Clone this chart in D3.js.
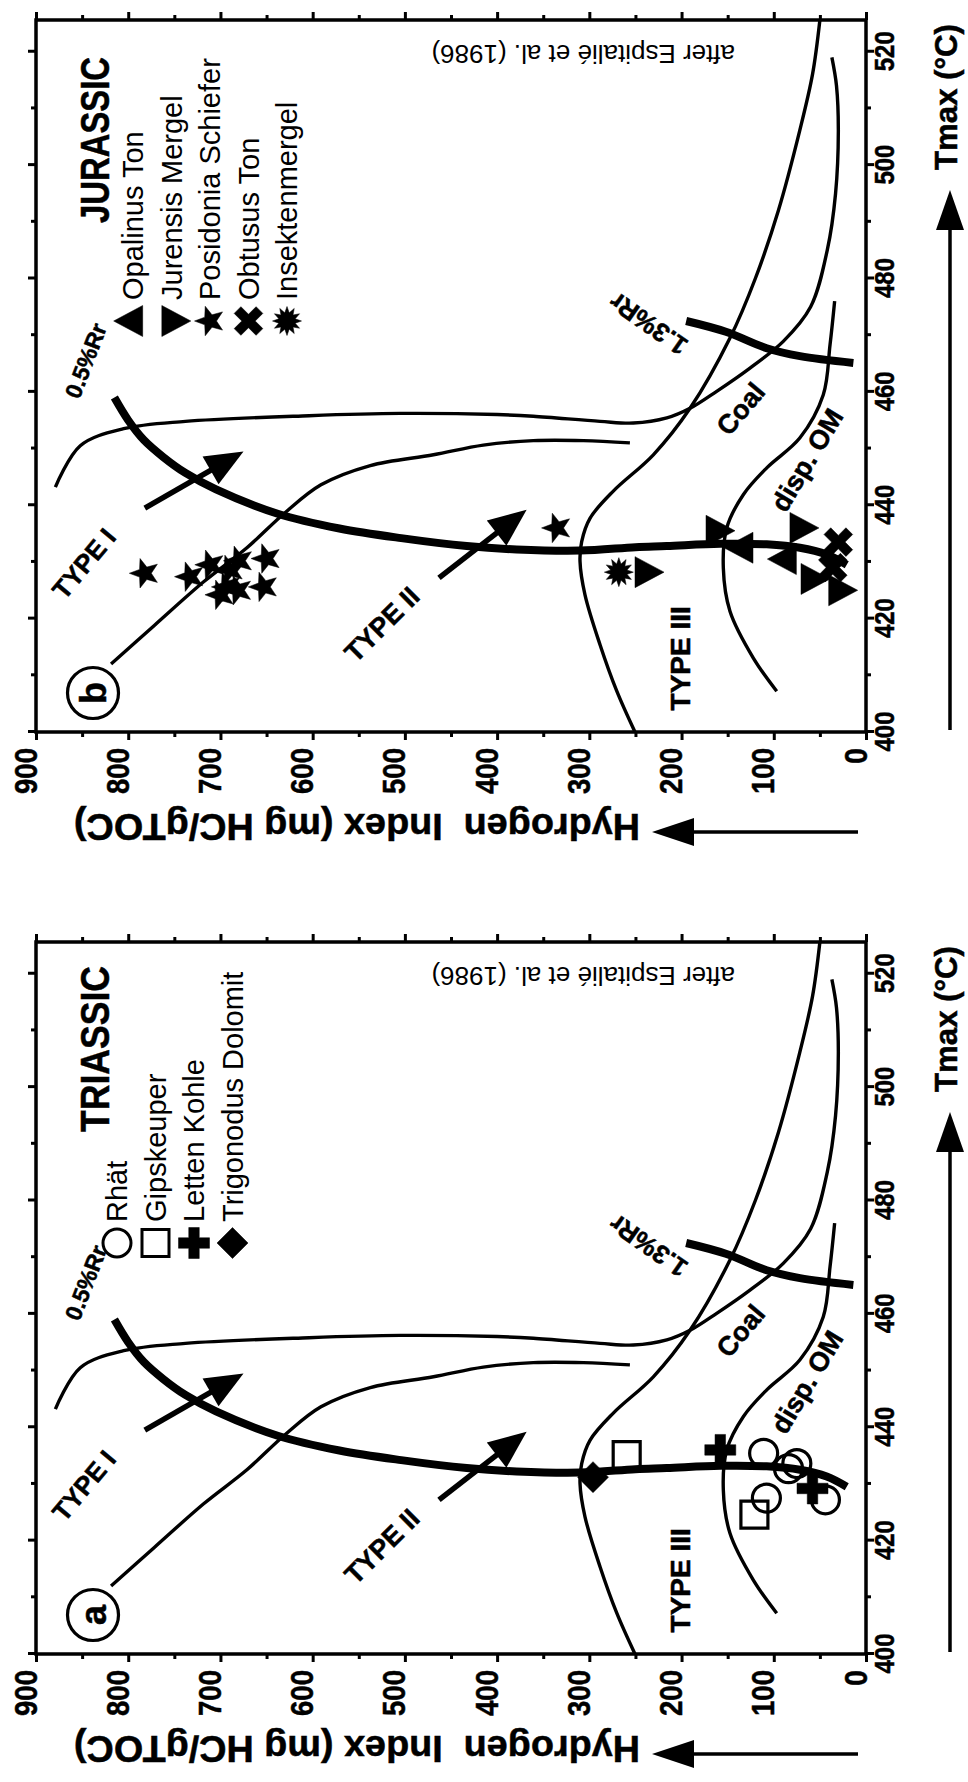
<!DOCTYPE html>
<html><head><meta charset="utf-8">
<script src="https://cdn.jsdelivr.net/npm/d3@7"></script>
<style>
html,body{margin:0;padding:0;background:#fff;}
svg{display:block;}
text{font-family:'Liberation Sans',Arial,Helvetica,sans-serif;fill:#000;}
.b{font-weight:bold;stroke:#000;stroke-width:0.5px;}
</style></head><body>
<svg id="chart" width="968" height="1782"></svg>
<script>
// ---------------- DATA (points are [Tmax °C, HI mg HC/gTOC]) ----------------
const tmaxTicks = [400, 420, 440, 460, 480, 500, 520];
const tmaxMinor = [410, 430, 450, 470, 490, 510];
const hiTicks = [0, 100, 200, 300, 400, 500, 600, 700, 800, 900];
const hiMinor = [50, 150, 250, 350, 450, 550, 650, 750, 850];
const tmaxDomain = [400, 525.6];
const hiDomain = [0, 900];

// reference curves (after Espitalié et al. 1986)
const typeIInner = [[412.0,818.6],[418.8,771.7],[426.5,718.2],[432.5,671.3],[438.5,631.2],[443.6,591],[447.0,537.5],[448.9,469],[450.6,415],[451.4,360.7],[451.4,306.5],[451.0,256]];
const typeIOuter = [[443.2,879],[450.5,852],[453.5,805],[454.8,738],[455.8,604],[456.2,505],[456.0,400],[455.7,360.7],[454.8,288.4],[454.5,252.3],[455.4,216],[457.1,190.8],[460.1,161.9],[464.2,125.8],[468.9,89.7],[475,60],[485,42],[495,33],[506,30],[514,32],[519,37]];
const typeIIIUpper = [[400,250.5],[407.2,270.2],[415.4,288.4],[424.2,304.7],[430.1,310.1],[433.6,308.3],[437.7,299.3],[442.5,274],[448.9,230.6],[457.1,190.8],[469.5,147.5],[480,120],[492,95],[506,72],[516,58],[525.6,50]];
const coalDispOM = [[407.2,96.8],[413,122],[421.3,147.5],[428.9,154.7],[436,151],[441.9,132.9],[446.6,107.6],[451.9,71.6],[459.5,46.3],[468.3,39],[476,34]];
const iso05 = [[459,815],[455,800],[451.5,783],[448.5,762],[445.7,738],[442.8,704.8],[438.5,637.9],[435.9,571],[434.2,504],[432.8,433],[432.2,378.8],[432.0,310],[432.6,250],[432.8,216],[433.2,158],[433.1,107.7],[432.5,71.6],[431.3,42.6],[429.5,20.9]];
const iso13 = [[472.5,195],[470.6,152],[467.7,107.7],[466.3,71.6],[465.1,13.7]];
const arrowTypeI = [[439.5,782],[449.5,675]];
const arrowTypeII = [[427.2,463],[439.2,368]];

// Jurassic samples
const jurassicNames = ['Opalinus Ton','Jurensis Mergel','Posidonia Schiefer','Obtusus Ton','Insektenmergel'];
const opalinusTon = [[432.5,133],[430.5,86]];
const jurensisMergel = [[435.5,163],[436,72],[428.2,240],[427,60],[425,30]];
const posidoniaSchiefer = [[428.0,782],[427.4,733],[429.5,711],[428.6,690],[430.2,680],[425.6,693],[424.2,700],[425.0,681],[430.6,650],[425.6,653],[436,335]];
const obtususTon = [[433.5,30],[429,36]];
const insektenmergel = [[428.2,268]];

// Triassic samples
const triassicNames = ['Rhät','Gipskeuper','Letten Kohle','Trigonodus Dolomit'];
const rhaet = [[435.4,111],[433.6,75],[432.7,84],[427.5,108],[427.2,44]];
const gipskeuper = [[435.1,259.5],[424.6,121]];
const lettenKohle = [[436,158],[429.2,58]];
const trigonodusDolomit = [[431.2,296]];

const annotations = [
  {text:'TYPE I',  t:429.7, hi:848, angle:-50, size:26},
  {text:'TYPE II', t:419,   hi:525, angle:-45, size:27},
  {text:'TYPE III',t:413,   hi:202, angle:-90, size:28},
  {text:'Coal',    t:457,   hi:136, angle:-50, size:27},
  {text:'disp. OM',t:448,   hi:64,  angle:-59, size:27},
  {text:'0.5%Rr',  t:465.5, hi:846, angle:-69, size:23},
  {text:'1.3%Rr',  t:472,   hi:236, angle:-145,size:26}
];

// ---------------- LAYOUT ----------------
const W = 712, H = 830, LEFT = 36;
const svg = d3.select('#chart');
const x = d3.scaleLinear().domain(tmaxDomain).range([0, W]);
const y = d3.scaleLinear().domain(hiDomain).range([H, 0]);

// marker shapes (local orientation; whole plot is rotated -90°)
function triPath(b, h){ return `M0,${-2*h/3}L${b/2},${h/3}L${-b/2},${h/3}Z`; }
function starPath(ro, ri, n){ let p=''; for(let i=0;i<2*n;i++){const r=i%2?ri:ro, a=Math.PI*i/n - Math.PI/2; p+=(i?'L':'M')+(r*Math.cos(a)).toFixed(2)+','+(r*Math.sin(a)).toFixed(2);} return p+'Z'; }
function crossPath(L, w){ const a=L/2, b=w/2; return `M${-b},${-a}H${b}V${-b}H${a}V${b}H${b}V${a}H${-b}V${b}H${-a}V${-b}H${-b}Z`; }
function diamondPath(r){ return `M0,${-r}L${r},0L0,${r}L${-r},0Z`; }
function squarePath(s){ return `M${-s/2},${-s/2}h${s}v${s}h${-s}Z`; }
function circlePath(r){ return `M${r},0A${r},${r} 0 1,1 ${-r},0A${r},${r} 0 1,1 ${r},0Z`; }
const SHAPES = {
  triUp:   {d: triPath(31,29), rot:0,   fill:true},
  triDown: {d: triPath(31,29), rot:180, fill:true},
  star:    {d: starPath(15.5,6.5,5), rot:0, fill:true},
  xcross:  {d: crossPath(31,9.5), rot:45, fill:true},
  burst:   {d: starPath(14.5,8.5,12), rot:0, fill:true},
  circle:  {d: circlePath(14), rot:0, fill:false},
  square:  {d: squarePath(27), rot:0, fill:false},
  plus:    {d: crossPath(31,10.5), rot:0, fill:true},
  diamond: {d: diamondPath(15.5), rot:0, fill:true}
};

const panels = [
  {top:20,  letter:'b', title:'JURASSIC', titleStart:203, legendX:133, names:jurassicNames,
   shapes:['triUp','triDown','star','xcross','burst'],
   series:[opalinusTon, jurensisMergel, posidoniaSchiefer, obtususTon, insektenmergel]},
  {top:942, letter:'a', title:'TRIASSIC', titleStart:190, legendX:117, names:triassicNames,
   shapes:['circle','square','plus','diamond'],
   series:[rhaet, gipskeuper, lettenKohle, trigonodusDolomit]}
];

const line = d3.line().x(d=>x(d[0])).y(d=>y(d[1])).curve(d3.curveCatmullRom.alpha(0.5));

panels.forEach(P => {
  const bottom = P.top + W;
  const g = svg.append('g').attr('transform', `translate(${LEFT},${bottom}) rotate(-90)`);

  // axes
  const styleAxis = a => { a.select('.domain').remove(); a.selectAll('line').attr('stroke','#000').attr('stroke-width',3); };
  const ax = g.append('g').attr('transform',`translate(0,${H})`)
    .call(d3.axisBottom(x).tickValues(tmaxTicks).tickSize(8).tickFormat(d3.format('d')));
  styleAxis(ax);
  ax.selectAll('text').attr('y',8).attr('dy','0.71em').attr('class','b')
    .style('font-size','28px').attr('textLength',40).attr('lengthAdjust','spacingAndGlyphs');
  styleAxis(g.append('g').attr('transform',`translate(0,${H})`).call(d3.axisBottom(x).tickValues(tmaxMinor).tickSize(5).tickFormat('')));
  styleAxis(g.append('g').call(d3.axisTop(x).tickValues(tmaxTicks).tickSize(8).tickFormat('')));
  styleAxis(g.append('g').call(d3.axisTop(x).tickValues(tmaxMinor).tickSize(5).tickFormat('')));
  const ay = g.append('g').call(d3.axisLeft(y).tickValues(hiTicks).tickSize(8).tickFormat(d3.format('d')));
  styleAxis(ay);
  ay.selectAll('text').attr('x',-16).attr('dy','0').attr('class','b')
    .style('font-size','31px').attr('textLength',d=>d===0?16:46).attr('lengthAdjust','spacingAndGlyphs');
  styleAxis(g.append('g').call(d3.axisLeft(y).tickValues(hiMinor).tickSize(5).tickFormat('')));
  styleAxis(g.append('g').attr('transform',`translate(${W},0)`).call(d3.axisRight(y).tickValues(hiTicks).tickSize(8).tickFormat('')));
  styleAxis(g.append('g').attr('transform',`translate(${W},0)`).call(d3.axisRight(y).tickValues(hiMinor).tickSize(5).tickFormat('')));

  // frame
  g.append('rect').attr('x',0).attr('y',0).attr('width',W).attr('height',H)
    .attr('fill','none').attr('stroke','#000').attr('stroke-width',3.5);

  // reference curves
  [typeIInner, typeIOuter, typeIIIUpper, coalDispOM].forEach(c =>
    g.append('path').attr('d', line(c)).attr('fill','none').attr('stroke','#000').attr('stroke-width',3.4));
  [iso05, iso13].forEach(c =>
    g.append('path').attr('d', line(c)).attr('fill','none').attr('stroke','#000').attr('stroke-width',8));

  // evolution arrows
  [arrowTypeI, arrowTypeII].forEach(a => {
    const p0=[x(a[0][0]),y(a[0][1])], p1=[x(a[1][0]),y(a[1][1])];
    const dx=p1[0]-p0[0], dy=p1[1]-p0[1], len=Math.hypot(dx,dy), ux=dx/len, uy=dy/len;
    const HL=38, HW=16;
    const b=[p1[0]-ux*HL, p1[1]-uy*HL];
    g.append('line').attr('x1',p0[0]).attr('y1',p0[1]).attr('x2',b[0]+ux*4).attr('y2',b[1]+uy*4)
      .attr('stroke','#000').attr('stroke-width',5.5);
    g.append('path').attr('d',`M${p1[0]},${p1[1]}L${b[0]-uy*HW},${b[1]+ux*HW}L${b[0]+uy*HW},${b[1]-ux*HW}Z`).attr('fill','#000');
  });

  // annotations
  annotations.forEach(A => {
    g.append('text').attr('transform',`translate(${x(A.t)},${y(A.hi)}) rotate(${A.angle+90})`)
      .attr('text-anchor','middle').attr('dy','0.35em').attr('class','b')
      .style('font-size',A.size+'px').text(A.text);
  });

  // markers
  P.series.forEach((s,i) => {
    const S = SHAPES[P.shapes[i]];
    g.selectAll(null).data(s).enter().append('path')
      .attr('d', S.d)
      .attr('transform', d=>`translate(${x(d[0])},${y(d[1])}) rotate(${S.rot})`)
      .attr('fill', S.fill ? '#000' : 'none')
      .attr('stroke','#000').attr('stroke-width', S.fill ? 0.5 : 3.2);
  });

  // panel letter (screen centre x=93, 39px above bottom)
  const lg = g.append('g').attr('transform',`translate(39,${93-LEFT})`);
  lg.append('circle').attr('r',25.5).attr('fill','#fff').attr('stroke','#000').attr('stroke-width',3.2);
  lg.append('text').attr('text-anchor','middle').attr('dy','0.36em').attr('class','b').style('font-size','36px').text(P.letter);

  // title (condensed bold)
  g.append('text').attr('x', W-P.titleStart).attr('y', 95-LEFT+14)
    .attr('class','b').style('font-size','40px').attr('textLength',166).attr('lengthAdjust','spacingAndGlyphs')
    .text(P.title);

  // legend
  P.names.forEach((n,i) => {
    const cx = P.legendX + i*38.5 - LEFT;   // local y
    const S = SHAPES[P.shapes[i]];
    g.append('path').attr('d',S.d).attr('transform',`translate(${W-301},${cx}) rotate(${S.rot})`)
      .attr('fill', S.fill ? '#000' : 'none').attr('stroke','#000').attr('stroke-width', S.fill?0.5:3);
    g.append('text').attr('x', W-280).attr('y', cx).attr('dy','0.36em')
      .style('font-size','29px').text(n);
  });

  // source note (upside-down on screen)
  g.append('text').attr('transform',`translate(${W-25},${735-LEFT}) rotate(-90)`)
    .style('font-size','26px').text('after Espitalié et al. (1986)');

  // axis titles & arrows (screen coords)
  svg.append('text').attr('transform',`translate(640,${bottom+82}) rotate(180)`)
    .attr('class','b').style('font-size','36px').attr('textLength',566).attr('lengthAdjust','spacingAndGlyphs')
    .text('Hydrogen\u00a0 Index (mg HC/gTOC)');
  const ay0 = bottom + 100;
  svg.append('line').attr('x1',858).attr('x2',690).attr('y1',ay0).attr('y2',ay0).attr('stroke','#000').attr('stroke-width',3.5);
  svg.append('path').attr('d',`M652,${ay0}L694,${ay0-14}L694,${ay0+14}Z`).attr('fill','#000');

  svg.append('text').attr('transform',`translate(957,${P.top+150}) rotate(-90)`)
    .attr('class','b').style('font-size','31px').attr('textLength',146).attr('lengthAdjust','spacingAndGlyphs')
    .text('Tmax (°C)');
  svg.append('line').attr('x1',950).attr('x2',950).attr('y1',P.top+710).attr('y2',P.top+205).attr('stroke','#000').attr('stroke-width',3.5);
  svg.append('path').attr('d',`M950,${P.top+170}L936,${P.top+210}L964,${P.top+210}Z`).attr('fill','#000');
});
</script>
</body></html>
